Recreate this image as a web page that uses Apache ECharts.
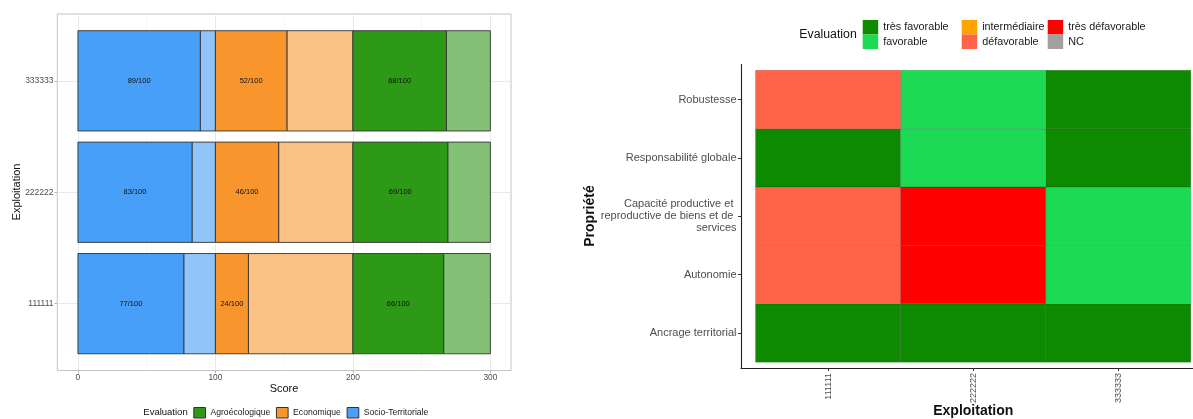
<!DOCTYPE html>
<html><head><meta charset="utf-8">
<script src="https://cdn.jsdelivr.net/npm/echarts@6/dist/echarts.min.js"></script>
<style>html,body{margin:0;padding:0;background:#fff}#c{width:1193px;height:419px}</style>
</head><body><div id="c"></div>
<script>
// ---------- data: left chart ----------
const exploitations = ['111111', '222222', '333333'];
const socioScores = [77, 83, 89];
const ecoScores = [24, 46, 52];
const agroScores = [66, 69, 68];
const maxScore = 100;
const scoreTicks = [0, 100, 200, 300];
const scoreMinorTicks = [50, 150, 250];
const legendDimensions = ['Agroécologique', 'Economique', 'Socio-Territoriale'];
const stackOrder = ['Socio-Territoriale', 'Economique', 'Agroécologique'];

// ---------- data: right chart ----------
const proprietes = ['Ancrage territorial', 'Autonomie',
  'Capacité productive et \nreproductive de biens et de \nservices',
  'Responsabilité globale', 'Robustesse'];
const evalLevels = ['très favorable', 'favorable', 'intermédiaire', 'défavorable', 'très défavorable', 'NC'];
// one array per propriété, values follow exploitations order
const evalAncrage = ['très favorable', 'très favorable', 'très favorable'];
const evalAutonomie = ['défavorable', 'très défavorable', 'favorable'];
const evalCapacite = ['défavorable', 'très défavorable', 'favorable'];
const evalResponsabilite = ['très favorable', 'favorable', 'très favorable'];
const evalRobustesse = ['défavorable', 'favorable', 'très favorable'];

// ---------- styles ----------
const FONT = '"Liberation Sans", Arial, Helvetica, sans-serif';
const dimColors = {
  'Socio-Territoriale': { dark: '#479FF8', light: '#91C5FA' },
  'Economique': { dark: '#F8962D', light: '#FCC283' },
  'Agroécologique': { dark: '#2E9916', light: '#83C276' }
};
const evalColors = {
  'très favorable': '#0D8A00', 'favorable': '#1CDA53', 'intermédiaire': '#FFA300',
  'défavorable': '#FF6348', 'très défavorable': '#FF0000', 'NC': '#A0A0A0'
};

const scoresByDim = {
  'Socio-Territoriale': socioScores,
  'Economique': ecoScores,
  'Agroécologique': agroScores
};
const evalRows = [evalAncrage, evalAutonomie, evalCapacite, evalResponsabilite, evalRobustesse];
const rowIdx = exploitations.map((_, i) => i);
const propIdx = proprietes.map((_, i) => i);

const chart = echarts.init(document.getElementById('c'), null, { renderer: 'canvas' });

// stacked bar custom series
const barSeries = stackOrder.map((name, k) => ({
  name: name,
  type: 'custom',
  xAxisIndex: 0, yAxisIndex: 0,
  itemStyle: { color: dimColors[name].dark },
  dimensions: ['row', 'score'],
  encode: { y: 'row', x: 'score' },
  data: scoresByDim[name].map((s, i) => [i, s]),
  renderItem: function (params, api) {
    const row = api.value(0), s = api.value(1);
    const off = k * maxScore;
    const p0 = api.coord([off, row]);
    const p1 = api.coord([off + s, row]);
    const p2 = api.coord([off + maxScore, row]);
    const h = api.size([0, 0.9])[1];
    const st = { stroke: '#333333', lineWidth: 0.9 };
    return {
      type: 'group',
      children: [
        { type: 'rect', shape: { x: p1[0], y: p0[1] - h / 2, width: p2[0] - p1[0], height: h },
          style: Object.assign({ fill: dimColors[name].light }, st) },
        { type: 'rect', shape: { x: p0[0], y: p0[1] - h / 2, width: p1[0] - p0[0], height: h },
          style: Object.assign({ fill: dimColors[name].dark }, st) },
        { type: 'text', x: (p0[0] + p1[0]) / 2, y: p0[1],
          style: { text: s + '/' + maxScore, align: 'center', verticalAlign: 'middle',
                   fontSize: 7.5, fill: '#111', fontFamily: FONT } }
      ]
    };
  }
}));

// heatmap custom series (one per evaluation level for the legend)
const heatSeries = evalLevels.map(level => {
  const cells = [];
  evalRows.forEach((row, yi) => row.forEach((ev, xi) => { if (ev === level) cells.push([xi, yi]); }));
  return {
    name: level,
    type: 'custom',
    xAxisIndex: 2, yAxisIndex: 1,
    itemStyle: { color: evalColors[level] },
    encode: { x: 0, y: 1 },
    data: cells,
    renderItem: function (params, api) {
      const c = api.coord([api.value(0), api.value(1)]);
      const sz = api.size([1, 1]);
      return {
        type: 'rect',
        shape: { x: c[0] - sz[0] / 2, y: c[1] - sz[1] / 2, width: sz[0], height: sz[1] },
        style: { fill: evalColors[level], stroke: 'rgba(0,0,0,0.22)', lineWidth: 0.6 }
      };
    }
  };
});

const rightLegendCols = [
  { items: ['très favorable', 'favorable'], left: 862.7 },
  { items: ['intermédiaire', 'défavorable'], left: 961.7 },
  { items: ['très défavorable', 'NC'], left: 1047.7 }
];

const option = {
  animation: false,
  backgroundColor: '#ffffff',
  textStyle: { fontFamily: FONT },
  grid: [
    { left: 57.3, top: 14, width: 453.7, height: 356.5, show: true,
      borderColor: '#C4C4C4', borderWidth: 1, backgroundColor: 'transparent', containLabel: false },
    { left: 741, top: 64.5, width: 452, height: 303.5, containLabel: false }
  ],
  xAxis: [
    { gridIndex: 0, type: 'value', min: -15, max: 315, position: 'bottom',
      axisLine: { show: false, onZero: false },
      axisTick: { show: true, customValues: scoreTicks, length: 2.75, lineStyle: { color: '#B3B3B3', width: 1 } },
      axisLabel: { customValues: scoreTicks, fontSize: 8.4, color: '#4D4D4D', margin: 3.5, fontFamily: FONT },
      splitLine: { show: true, lineStyle: { color: '#E9E9E9', width: 1 } } },
    { gridIndex: 0, type: 'value', min: -15, max: 315, position: 'bottom',
      axisLine: { show: false, onZero: false },
      axisTick: { show: false, customValues: scoreMinorTicks },
      axisLabel: { show: false },
      splitLine: { show: true, lineStyle: { color: '#F3F3F3', width: 0.7 } } },
    { gridIndex: 1, type: 'value', min: -0.6, max: 2.515, position: 'bottom',
      axisLine: { show: true, onZero: false, lineStyle: { color: '#222', width: 1.1 } },
      axisTick: { show: true, customValues: rowIdx, length: 3, lineStyle: { color: '#333', width: 1 } },
      axisLabel: { customValues: rowIdx, rotate: 90, formatter: v => exploitations[v],
                   fontSize: 9, color: '#4D4D4D', margin: 5, fontFamily: FONT },
      splitLine: { show: false } }
  ],
  yAxis: [
    { gridIndex: 0, type: 'value', min: -0.6, max: 2.6, position: 'left',
      axisLine: { show: false, onZero: false },
      axisTick: { show: true, customValues: rowIdx, length: 2.75, lineStyle: { color: '#B3B3B3', width: 1 } },
      axisLabel: { customValues: rowIdx, formatter: v => exploitations[v],
                   fontSize: 8.5, color: '#4D4D4D', margin: 3.8, fontFamily: FONT },
      splitLine: { show: true, lineStyle: { color: '#E9E9E9', width: 1 } } },
    { gridIndex: 1, type: 'value', min: -0.6, max: 4.6, position: 'left',
      axisLine: { show: true, onZero: false, lineStyle: { color: '#222', width: 1.1 } },
      axisTick: { show: true, customValues: propIdx, length: 3, lineStyle: { color: '#333', width: 1 } },
      axisLabel: { customValues: propIdx, formatter: v => proprietes[v],
                   fontSize: 11, lineHeight: 12, color: '#4D4D4D', margin: 4.5, align: 'right', fontFamily: FONT },
      splitLine: { show: false } }
  ],
  legend: [
    { data: legendDimensions.map(n => ({ name: n, icon: 'rect',
        itemStyle: { color: dimColors[n].dark, borderColor: '#333', borderWidth: 1 } })),
      orient: 'horizontal', left: 193.3, top: 407, padding: 0,
      itemWidth: 11.7, itemHeight: 10.5, itemGap: 5.7, selectedMode: false,
      textStyle: { fontSize: 8.6, color: '#1a1a1a', fontFamily: FONT, padding: [0, 0, 0, 0] } }
  ].concat(rightLegendCols.map(col => ({
      data: col.items.map(n => ({ name: n, icon: 'rect',
        itemStyle: { color: evalColors[n], borderWidth: 0 } })),
      orient: 'vertical', left: col.left, top: 20, padding: 0,
      itemWidth: 15.5, itemHeight: 14.5, itemGap: 0, selectedMode: false,
      textStyle: { fontSize: 10.8, color: '#1a1a1a', fontFamily: FONT }
  }))),
  graphic: [
    { type: 'text', x: 284, y: 388.5, style: { text: 'Score', fontSize: 11, fill: '#111',
      align: 'center', verticalAlign: 'middle', fontFamily: FONT } },
    { type: 'text', x: 17, y: 192, rotation: Math.PI / 2, style: { text: 'Exploitation', fontSize: 11, fill: '#111',
      align: 'center', verticalAlign: 'middle', fontFamily: FONT } },
    { type: 'text', x: 143.3, y: 412.5, style: { text: 'Evaluation', fontSize: 9.5, fill: '#111',
      align: 'left', verticalAlign: 'middle', fontFamily: FONT } },
    { type: 'text', x: 799.3, y: 35, style: { text: 'Evaluation', fontSize: 12.3, fill: '#111',
      align: 'left', verticalAlign: 'middle', fontFamily: FONT } },
    { type: 'text', x: 973.3, y: 411.5, style: { text: 'Exploitation', fontSize: 14, fontWeight: 'bold', fill: '#111',
      align: 'center', verticalAlign: 'middle', fontFamily: FONT } },
    { type: 'text', x: 590, y: 216, rotation: Math.PI / 2, style: { text: 'Propriété', fontSize: 14, fontWeight: 'bold', fill: '#111',
      align: 'center', verticalAlign: 'middle', fontFamily: FONT } }
  ],
  series: barSeries.concat(heatSeries)
};
chart.setOption(option);
</script>
</body></html>
